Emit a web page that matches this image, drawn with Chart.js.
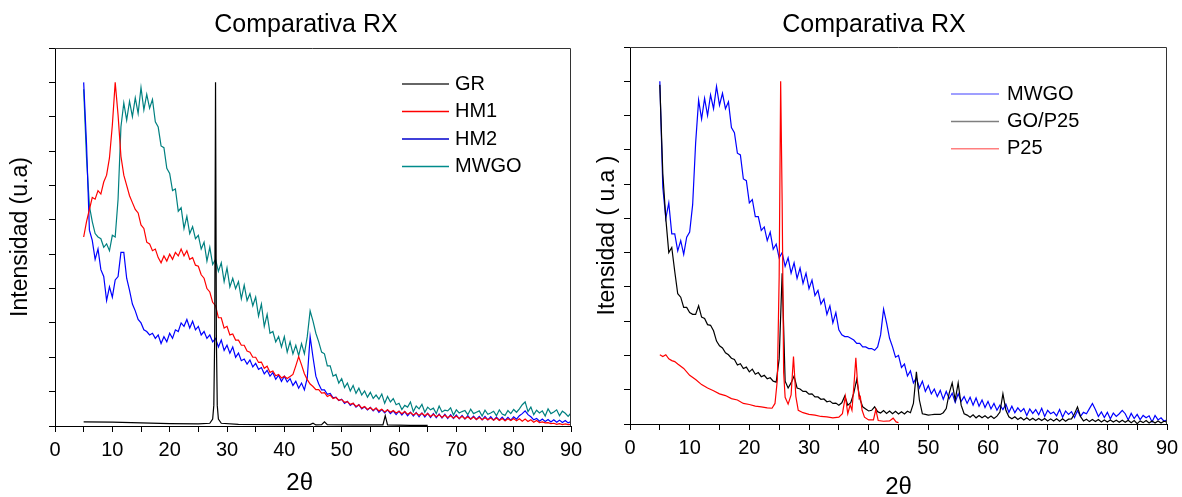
<!DOCTYPE html>
<html>
<head>
<meta charset="utf-8">
<title>Comparativa RX</title>
<script src="https://cdn.jsdelivr.net/npm/chart.js@4.4.1/dist/chart.umd.min.js"></script>
<style>
    html, body { margin: 0; padding: 0; background: #fff; overflow: hidden; }
    #page { position: relative; width: 1182px; height: 497px; }
    .panel { position: absolute; top: 0; }
    #leftPanel { left: 0; }
    #rightPanel { left: 566px; }
</style>
</head>
<body>
<div id="page">
    <div class="panel" id="leftPanel"><canvas id="leftChart" width="612" height="497"></canvas></div>
    <div class="panel" id="rightPanel"><canvas id="rightChart" width="616" height="500"></canvas></div>
</div>
<script>
// 2-theta grid shared by the noisy scans (degrees)
const angles = [
    5, 5.5, 6, 6.5, 7, 7.5, 8, 8.5, 9, 9.5,
    10, 10.5, 11, 11.5, 12, 12.5, 13, 13.5, 14, 14.5,
    15, 15.5, 16, 16.5, 17, 17.5, 18, 18.5, 19, 19.5,
    20, 20.5, 21, 21.5, 22, 22.5, 23, 23.5, 24, 24.5,
    25, 25.5, 26, 26.5, 27, 27.5, 28, 28.5, 29, 29.5,
    30, 30.5, 31, 31.5, 32, 32.5, 33, 33.5, 34, 34.5,
    35, 35.5, 36, 36.5, 37, 37.5, 38, 38.5, 39, 39.5,
    40, 40.5, 41, 41.5, 42, 42.5, 43, 43.5, 44, 44.5,
    45, 45.5, 46, 46.5, 47, 47.5, 48, 48.5, 49, 49.5,
    50, 50.5, 51, 51.5, 52, 52.5, 53, 53.5, 54, 54.5,
    55, 55.5, 56, 56.5, 57, 57.5, 58, 58.5, 59, 59.5,
    60, 60.5, 61, 61.5, 62, 62.5, 63, 63.5, 64, 64.5,
    65, 65.5, 66, 66.5, 67, 67.5, 68, 68.5, 69, 69.5,
    70, 70.5, 71, 71.5, 72, 72.5, 73, 73.5, 74, 74.5,
    75, 75.5, 76, 76.5, 77, 77.5, 78, 78.5, 79, 79.5,
    80, 80.5, 81, 81.5, 82, 82.5, 83, 83.5, 84, 84.5,
    85, 85.5, 86, 86.5, 87, 87.5, 88, 88.5, 89, 89.5,
    90
];

// Left panel (arbitrary units)
const grAngles = [5, 10, 15, 20, 25, 27, 27.5, 27.7, 27.85, 28, 28.15, 28.3, 28.5, 29, 32, 40, 44.5, 45, 45.5, 46.5, 47, 47.5, 52, 57.2, 57.6, 58, 62, 65];
const grValues = [0.12, 0.11, 0.09, 0.07, 0.06, 0.08, 0.2, 0.6, 2.5, 10.0, 2.5, 0.6, 0.2, 0.08, 0.05, 0.04, 0.04, 0.08, 0.03, 0.04, 0.12, 0.04, 0.03, 0.03, 0.3, 0.03, 0.02, 0.02];

const hm1Values = [
    5.5, 5.95, 6.3, 6.65, 6.6, 6.85, 6.75, 7.1, 7.3, 7.8,
    8.75, 10.0, 9.05, 7.85, 7.3, 7.0, 6.7, 6.5, 6.3, 6.2,
    5.85, 5.75, 5.35, 5.3, 5.1, 5.15, 4.9, 4.75, 4.95, 4.8,
    5.0, 4.85, 5.05, 4.95, 5.15, 4.95, 5.1, 4.85, 4.9, 4.68,
    4.65, 4.4, 4.3, 4.0, 3.9, 3.6, 3.5, 3.15, 3.15, 2.85,
    2.9, 2.65, 2.68, 2.5, 2.5, 2.35, 2.35, 2.18, 2.15, 2.0,
    2.0, 1.85, 1.86, 1.68, 1.74, 1.56, 1.6, 1.46, 1.5, 1.4,
    1.45, 1.38, 1.44, 1.5, 1.75, 2.02, 1.78, 1.52, 1.35, 1.22,
    1.15, 1.06, 1.06, 0.96, 0.97, 0.86, 0.9, 0.8, 0.83, 0.75,
    0.77, 0.69, 0.71, 0.63, 0.66, 0.57, 0.62, 0.52, 0.57, 0.48,
    0.54, 0.46, 0.52, 0.44, 0.49, 0.41, 0.47, 0.4, 0.45, 0.38,
    0.43, 0.36, 0.42, 0.34, 0.39, 0.32, 0.38, 0.31, 0.37, 0.3,
    0.36, 0.28, 0.34, 0.27, 0.33, 0.25, 0.32, 0.24, 0.3, 0.23,
    0.29, 0.22, 0.28, 0.21, 0.27, 0.2, 0.26, 0.19, 0.25, 0.18,
    0.24, 0.18, 0.23, 0.17, 0.23, 0.16, 0.22, 0.15, 0.21, 0.16,
    0.22, 0.15, 0.21, 0.14, 0.2, 0.13, 0.18, 0.11, 0.16, 0.1,
    0.12, 0.09, 0.1, 0.07, 0.08, 0.05, 0.07, 0.04, 0.06, 0.04,
    0.05
];

const hm2Values = [
    10.0, 8.2, 5.7, 5.4, 4.85, 5.15, 4.55, 4.35, 3.65, 4.05,
    3.75, 4.25, 4.35, 5.05, 5.05, 4.3, 3.95, 3.55, 3.35, 3.1,
    3.0, 2.8, 2.75, 2.65, 2.7, 2.55, 2.65, 2.4, 2.6, 2.45,
    2.7, 2.55, 2.8, 2.75, 3.0, 2.9, 3.1, 2.85, 3.05, 2.8,
    2.9, 2.65, 2.75, 2.55, 2.65, 2.45, 2.55, 2.3, 2.5, 2.2,
    2.35, 2.12, 2.3, 2.0, 2.12, 1.9, 1.95, 1.8, 1.92, 1.72,
    1.82, 1.65, 1.7, 1.52, 1.62, 1.45, 1.55, 1.36, 1.48, 1.3,
    1.45, 1.28, 1.38, 1.18, 1.3, 1.1, 1.25, 1.05, 1.4, 2.6,
    2.0, 1.45, 1.22, 1.05, 1.05, 0.92, 0.95, 0.82, 0.84, 0.74,
    0.78, 0.66, 0.72, 0.6, 0.66, 0.55, 0.62, 0.5, 0.56, 0.47,
    0.54, 0.44, 0.52, 0.4, 0.48, 0.38, 0.47, 0.36, 0.44, 0.33,
    0.43, 0.32, 0.42, 0.3, 0.4, 0.29, 0.39, 0.27, 0.38, 0.26,
    0.37, 0.25, 0.36, 0.24, 0.35, 0.23, 0.34, 0.22, 0.33, 0.22,
    0.32, 0.21, 0.31, 0.2, 0.3, 0.2, 0.29, 0.19, 0.28, 0.18,
    0.28, 0.18, 0.27, 0.17, 0.26, 0.17, 0.26, 0.16, 0.25, 0.17,
    0.27, 0.2, 0.3, 0.36, 0.44, 0.33, 0.27, 0.18, 0.22, 0.14,
    0.2, 0.13, 0.19, 0.12, 0.18, 0.11, 0.17, 0.1, 0.16, 0.09,
    0.13
];

const mwgoLeftValues = [
    9.8, 7.8, 6.4, 5.95, 5.6, 5.5, 5.45, 5.2, 5.3, 5.1,
    5.55, 5.5, 6.6, 8.7, 9.4, 8.9, 9.45, 9.0, 9.55, 9.1,
    9.85, 9.2, 9.65, 9.25, 9.5, 8.85, 8.7, 8.15, 8.1, 7.5,
    7.35, 6.85, 6.9, 6.25, 6.35, 5.75, 6.1, 5.6, 5.8, 5.45,
    5.55, 5.15, 5.35, 4.8, 5.2, 4.7, 4.85, 4.5, 4.75, 4.2,
    4.6, 4.05, 4.3, 4.0, 4.2, 3.7, 4.1, 3.65, 3.85, 3.5,
    3.75, 3.2, 3.55, 2.9, 3.25, 2.7, 2.75, 2.45, 2.6, 2.3,
    2.6, 2.15, 2.45, 2.1, 2.35, 2.05, 2.4, 2.1, 2.6, 3.35,
    3.05, 2.7, 2.45, 2.15, 2.1, 1.75, 1.75, 1.45, 1.5, 1.25,
    1.38, 1.12, 1.25, 1.02, 1.18, 0.95, 1.1, 0.9, 1.02, 0.84,
    0.98, 0.8, 0.9, 0.78, 0.93, 0.66, 0.86, 0.7, 0.8, 0.62,
    0.66, 0.48, 0.6, 0.55, 0.7, 0.42, 0.58, 0.5, 0.63, 0.4,
    0.55, 0.47, 0.52, 0.36, 0.58, 0.41, 0.46, 0.44, 0.53, 0.32,
    0.47, 0.38, 0.42, 0.45, 0.33, 0.49, 0.36, 0.4, 0.44, 0.29,
    0.46, 0.34, 0.38, 0.43, 0.3, 0.47, 0.35, 0.31, 0.45, 0.36,
    0.48, 0.4, 0.5, 0.62, 0.7, 0.42, 0.55, 0.33, 0.46, 0.38,
    0.44, 0.29, 0.5, 0.36, 0.41, 0.47, 0.3, 0.43, 0.37, 0.28,
    0.38
];

// Right panel
const mwgoRightValues = [
    10.0, 6.9, 6.0, 6.45, 5.55, 5.55, 5.05, 5.35, 4.95, 5.45,
    5.6, 6.4, 8.2, 9.45, 8.9, 9.5, 9.0, 9.6, 9.2, 9.85,
    9.3, 9.65, 9.2, 9.4, 8.65, 8.5, 7.9, 7.85, 7.15, 7.1,
    6.45, 6.55, 6.05, 6.05, 5.65, 5.75, 5.35, 5.6, 5.1, 5.25,
    4.85, 5.0, 4.6, 4.85, 4.4, 4.7, 4.25, 4.55, 4.1, 4.4,
    3.95, 4.2, 3.75, 3.9, 3.5, 3.65, 3.2, 3.45, 2.95, 3.25,
    2.75, 2.6, 2.55, 2.55, 2.5, 2.45, 2.35, 2.35, 2.25, 2.25,
    2.2, 2.2, 2.15, 2.25, 2.6, 3.35, 2.95, 2.5, 2.25, 1.95,
    2.0, 1.65, 1.75, 1.4, 1.55, 1.2, 1.35, 1.05, 1.25, 0.95,
    1.12, 0.88, 1.02, 0.8, 0.98, 0.72, 0.95, 0.74, 0.9, 0.63,
    0.88, 0.66, 0.8, 0.6, 0.78, 0.55, 0.76, 0.52, 0.7, 0.48,
    0.66, 0.44, 0.6, 0.4, 0.55, 0.42, 0.58, 0.34, 0.52, 0.33,
    0.47, 0.36, 0.45, 0.25, 0.44, 0.31, 0.42, 0.27, 0.46, 0.22,
    0.4, 0.3, 0.35, 0.24, 0.42, 0.2, 0.38, 0.28, 0.36, 0.19,
    0.39, 0.22, 0.34, 0.3, 0.45, 0.6, 0.42, 0.22, 0.35, 0.19,
    0.34, 0.15, 0.32, 0.22, 0.3, 0.4, 0.3, 0.12, 0.31, 0.16,
    0.28, 0.13, 0.25, 0.18, 0.24, 0.06, 0.25, 0.12, 0.18, 0.08,
    0.12
];

const goP25Values = [
    9.9, 7.3, 6.0, 5.0, 5.15, 4.45, 3.8, 3.7, 3.4, 3.4,
    3.25, 3.2, 3.2, 3.45, 3.12, 3.08, 2.9, 2.88, 2.72, 2.42,
    2.28, 2.22, 2.08, 2.02, 1.92, 1.88, 1.72, 1.76, 1.62, 1.66,
    1.52, 1.6, 1.45, 1.5, 1.38, 1.42, 1.32, 1.35, 1.25, 1.22,
    1.9, 4.4, 1.25, 1.05, 1.2, 1.4, 1.05, 1.02, 0.95, 0.95,
    0.87, 0.88, 0.79, 0.79, 0.72, 0.73, 0.65, 0.67, 0.6, 0.61,
    0.55, 0.62, 0.82, 0.55, 0.62, 0.9, 1.3, 0.75, 0.5, 0.44,
    0.38, 0.4, 0.5, 0.36, 0.32, 0.39, 0.31, 0.38, 0.3, 0.37,
    0.29, 0.36, 0.29, 0.37, 0.33, 0.6, 1.52, 0.7, 0.3, 0.28,
    0.26, 0.27, 0.28, 0.28, 0.28, 0.33, 0.45, 0.9, 1.2, 0.7,
    1.2, 0.55, 0.3, 0.26, 0.2, 0.27, 0.18, 0.25, 0.18, 0.24,
    0.17, 0.23, 0.16, 0.23, 0.35, 0.88, 0.4, 0.21, 0.15, 0.21,
    0.13, 0.19, 0.12, 0.18, 0.11, 0.17, 0.1, 0.16, 0.1, 0.16,
    0.09, 0.15, 0.09, 0.15, 0.08, 0.15, 0.08, 0.14, 0.15, 0.3,
    0.5, 0.22, 0.09, 0.14, 0.07, 0.13, 0.07, 0.13, 0.06, 0.12,
    0.06, 0.12, 0.06, 0.11, 0.05, 0.11, 0.05, 0.11, 0.04, 0.1,
    0.01, 0.09, 0.04, 0.1, 0.03, 0.09, 0.03, 0.09, 0.03, 0.08,
    0.05
];

const p25Angles = [5, 5.5, 6, 6.5, 7, 7.5, 8, 9, 10, 11, 12, 13, 14, 15, 16, 17, 18, 19, 20, 21, 22, 23,
    23.8, 24.3, 24.7, 25.0, 25.25, 25.5, 25.75, 26, 26.5, 27.0, 27.4, 27.8, 28.2,
    29, 30, 31, 32, 33, 34, 35, 35.6, 36.1, 36.5, 36.9, 37.2, 37.6, 37.85, 38.1, 38.4, 38.6, 38.9, 39.3,
    40, 40.8, 41.2, 41.6, 42.5, 43.5, 44.1, 44.6, 45];
const p25Values = [2.02, 1.97, 2.02, 1.9, 1.85, 1.82, 1.75, 1.62, 1.42, 1.3, 1.15, 1.05, 0.97, 0.88, 0.83, 0.74, 0.7, 0.6, 0.57, 0.52, 0.5, 0.47,
    0.46, 0.6, 1.3, 4.3, 10.0, 6.5, 1.5, 0.78, 0.58, 0.85, 1.97, 0.8, 0.4,
    0.33, 0.28, 0.26, 0.22, 0.21, 0.18, 0.2, 0.3, 0.81, 0.3, 0.56, 0.4, 1.3, 1.93, 1.3, 0.75, 0.8, 0.4, 0.2,
    0.12, 0.12, 0.42, 0.1, 0.08, 0.09, 0.17, 0.06, 0.04];

const xTicks = [0, 10, 20, 30, 40, 50, 60, 70, 80, 90];

const FONT = "'Liberation Sans', Arial, Helvetica, sans-serif";

// pair up x and y arrays for the linear x axis
function toPoints(xs, ys) {
    return xs.map((x, i) => ({ x: x, y: ys[i] }));
}

// legend drawn inside the plot box, like the original
const insideLegend = {
    id: 'insideLegend',
    afterDraw(chart, args, opts) {
        const ctx = chart.ctx;
        ctx.save();
        ctx.font = opts.fontSize + 'px ' + FONT;
        ctx.textBaseline = 'middle';
        ctx.textAlign = 'left';
        opts.labels.forEach((label, i) => {
            const y = opts.y + i * opts.rowHeight;
            ctx.strokeStyle = opts.colors[i];
            ctx.lineWidth = 1.5;
            ctx.beginPath();
            ctx.moveTo(opts.x, y);
            ctx.lineTo(opts.x + opts.lineLength, y);
            ctx.stroke();
            ctx.fillStyle = '#000';
            ctx.fillText(label, opts.x + opts.lineLength + opts.gap, y);
        });
        ctx.restore();
    }
};

// top and right edges of the plot box
const boxFrame = {
    id: 'boxFrame',
    afterDatasetsDraw(chart) {
        const { ctx, chartArea: a } = chart;
        ctx.save();
        ctx.strokeStyle = '#333';
        ctx.lineWidth = 1;
        ctx.beginPath();
        ctx.moveTo(a.left, a.top + 0.5);
        ctx.lineTo(a.right - 0.5, a.top + 0.5);
        ctx.lineTo(a.right - 0.5, a.bottom);
        ctx.stroke();
        ctx.restore();
    }
};

function buildOptions(cfg) {
    return {
        responsive: false,
        animation: false,
        events: [],
        layout: { padding: 0 },
        scales: {
            x: {
                type: 'linear',
                min: 0,
                max: 90,
                border: { display: true, color: '#000', width: 1 },
                grid: { drawOnChartArea: false, drawTicks: true, tickLength: 6, tickColor: '#000' },
                ticks: {
                    stepSize: 5,
                    autoSkip: false,
                    maxRotation: 0,
                    padding: 6,
                    color: '#000',
                    font: { family: FONT, size: 20 },
                    callback: v => (xTicks.includes(v) ? String(v) : '')
                },
                title: {
                    display: true,
                    text: cfg.xTitle,
                    color: '#000',
                    font: { family: FONT, size: 24, lineHeight: 1 },
                    padding: { top: 0, bottom: cfg.xTitlePad }
                },
                afterFit: s => { s.height = cfg.xAxisHeight; s.paddingLeft = 0; s.paddingRight = 0; }
            },
            y: {
                min: 0,
                max: 11,
                border: { display: true, color: '#000', width: 1 },
                grid: { drawOnChartArea: false, drawTicks: true, tickLength: 6, tickColor: '#000' },
                ticks: { stepSize: 1, callback: () => '' },
                title: {
                    display: true,
                    text: cfg.yTitle,
                    color: '#000',
                    font: { family: FONT, size: 23 },
                    padding: { top: cfg.yTitlePad, bottom: 0 }
                },
                afterFit: s => { s.width = cfg.yAxisWidth; }
            },
            // empty right-hand axis: keeps the plot box off the right edge
            // while the title stays centred on the whole canvas
            spacer: {
                position: 'right',
                display: true,
                min: 0,
                max: 1,
                border: { display: false },
                grid: { display: false },
                ticks: { display: false },
                afterFit: s => { s.width = cfg.padRight; }
            }
        },
        plugins: {
            legend: { display: false },
            tooltip: { enabled: false },
            title: {
                display: true,
                text: 'Comparativa RX',
                color: '#000',
                font: { family: FONT, size: 25, weight: 'normal' },
                padding: { top: 10, bottom: cfg.titlePadBottom }
            },
            insideLegend: cfg.legend
        }
    };
}

function lineSet(label, points, color, order) {
    return {
        label: label,
        data: points,
        borderColor: color,
        borderWidth: 1.2,
        pointRadius: 0,
        tension: 0,
        fill: false,
        order: order
    };
}

const leftLabels = ['GR', 'HM1', 'HM2', 'MWGO'];
const rightLabels = ['MWGO', 'GO/P25', 'P25'];

new Chart(document.getElementById('leftChart'), {
    type: 'line',
    data: {
        datasets: [
            lineSet('GR', toPoints(grAngles, grValues), '#000000', 0),
            lineSet('HM1', toPoints(angles, hm1Values), '#ff0000', 1),
            lineSet('HM2', toPoints(angles, hm2Values), '#0000ff', 2),
            lineSet('MWGO', toPoints(angles, mwgoLeftValues), '#008080', 3)
        ]
    },
    options: buildOptions({
        padRight: 41,
        xAxisHeight: 71,
        xTitle: '2θ    ',
        xTitlePad: 2,
        yTitle: 'Intensidad (u.a)',
        yTitlePad: 7,
        yAxisWidth: 55,
        titlePadBottom: 8,
        legend: {
            labels: leftLabels,
            colors: ['#333333', '#ff0000', '#0000cc', '#008b8b'],
            x: 402, y: 84, lineLength: 47, gap: 6, rowHeight: 27.5, fontSize: 20
        }
    }),
    plugins: [insideLegend, boxFrame]
});

new Chart(document.getElementById('rightChart'), {
    type: 'line',
    data: {
        datasets: [
            lineSet('MWGO', toPoints(angles, mwgoRightValues), '#0000ff', 2),
            lineSet('GO/P25', toPoints(angles, goP25Values), '#000000', 1),
            lineSet('P25', toPoints(p25Angles, p25Values), '#ff0000', 0)
        ]
    },
    options: buildOptions({
        padRight: 15,
        xAxisHeight: 76,
        xTitle: '2θ',
        xTitlePad: 1,
        yTitle: 'Itensidad ( u.a )',
        yTitlePad: 28,
        yAxisWidth: 64,
        titlePadBottom: 7,
        legend: {
            labels: rightLabels,
            colors: ['#7f7fff', '#7f7f7f', '#ff7f7f'],
            x: 385, y: 94, lineLength: 48, gap: 8, rowHeight: 27.4, fontSize: 20
        }
    }),
    plugins: [insideLegend, boxFrame]
});
</script>
</body>
</html>
